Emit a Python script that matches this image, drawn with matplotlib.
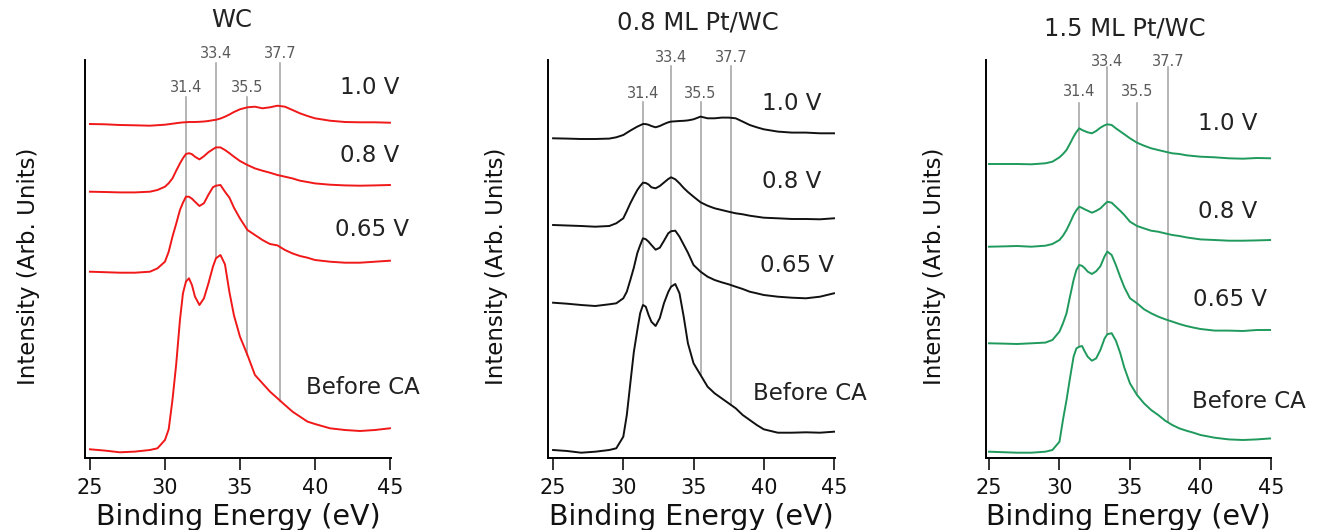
import numpy as np
import matplotlib.pyplot as plt

plt.rcParams['font.family'] = ['DejaVu Sans']

# binding energy grid (eV) shared by all spectra
energy = [25, 26, 27, 28, 29, 29.5, 30, 30.25, 30.5, 30.75, 31, 31.2, 31.4, 31.6, 31.8,
          32, 32.3, 32.6, 32.9, 33.2, 33.4, 33.7, 34, 34.3, 34.6, 35, 35.5, 36, 36.5,
          37, 37.5, 38, 38.5, 39, 39.5, 40, 41, 42, 43, 44, 45]

# WC
wc_before = [0, -1.3, -3, -2.3, -0.7, 1, 9.3, 20, 49.3, 85, 129.3, 156, 167.7, 171, 164.3,
             152.7, 144.3, 151, 166, 182.7, 191, 194.3, 185, 157, 134, 112.7, 94.3, 74.3, 66,
             57.7, 51, 44.3, 37.7, 32.7, 27.7, 25.3, 21, 19.3, 18.3, 19.3, 21]
wc_065 = [0, -0.5, -1, -1, 0, 3.3, 10, 20, 35, 48, 61.7, 69, 75, 75, 73,
          70, 65.7, 68.5, 77, 84.5, 86, 86.7, 80, 74, 64, 53.3, 41.7, 36.7, 31.7,
          27.7, 26.3, 21.7, 18.3, 15.7, 14, 11.7, 10, 9, 9, 10, 11]
wc_08 = [0, -0.3, -0.7, -0.7, 0, 1.7, 5, 8.5, 13.3, 21, 28.3, 33.5, 37.7, 38.5, 37.5,
         35, 32.3, 35.5, 39.5, 42.5, 44.3, 44.3, 41.7, 38.5, 35, 30.7, 26.7, 23.3, 21,
         19, 16.7, 15, 13.3, 11, 9.7, 8.3, 7, 6.3, 6, 6.3, 6.7]
wc_10 = [0, -0.3, -1, -1.3, -1.7, -1.2, -0.7, -0.2, 0.3, 0.8, 1.3, 1.6, 1.8, 2, 2,
         2, 2.2, 2.5, 3, 3.8, 4.2, 5.5, 7.3, 9.5, 12, 14.7, 16.7, 17.3, 15.7,
         16.7, 18.3, 17.3, 14, 10.7, 8, 5.7, 3.3, 2, 1.7, 1.7, 1.3]

# 0.8 ML Pt/WC
pt08_before = [0, -1, -2.7, -1.7, 0, 1.7, 13.3, 35, 66.7, 98, 120, 136.7, 145, 143.3, 135,
               128.3, 124, 132, 147, 158, 163.3, 166, 156.7, 133.3, 106.7, 86.7, 75, 63.3, 56.7,
               51.7, 46.7, 41.7, 35, 30, 25, 20.7, 17.3, 17.3, 17.7, 17.3, 18.3]
pt08_065 = [0, -1, -2.3, -3.3, -1.6, -0.6, 4.4, 11, 22.7, 35, 49.7, 57.5, 64.4, 63.5, 61,
            57.7, 53, 55, 62, 69.4, 71.5, 72, 66, 58, 50, 37.7, 31, 26, 22.7,
            20.4, 18.4, 16, 13.7, 11, 9.4, 7.7, 6, 5, 4.4, 6, 9.4]
pt08_08 = [0, -0.5, -1, -1.7, -1, 1.7, 6.7, 14, 21.7, 28.5, 35, 39, 42.3, 42, 40.5,
           37.7, 36.7, 39, 42.5, 46, 47.7, 45.7, 41.7, 37, 33, 28.3, 22.7, 19.3, 16.7,
           15, 13.3, 11.7, 10.7, 9.3, 8.3, 7.3, 6.7, 6, 6, 5.7, 6.7]
pt08_10 = [0, -0.3, -0.7, -0.7, -0.3, 1, 3.3, 5.5, 7.7, 9.7, 11.7, 13, 14.3, 14.2, 13.5,
           12.3, 11, 12.3, 14.3, 16, 16.7, 17, 17.3, 17.5, 17.9, 19, 21.7, 20, 20,
           20.7, 20.7, 20, 16.7, 13.3, 11, 9, 6.7, 5.7, 5.7, 5, 5]

# 1.5 ML Pt/WC
pt15_before = [0, -0.5, -1, -1, 0, 1.7, 10, 32, 51.7, 74, 95, 103.3, 105, 105.7, 100,
               95, 91, 93.3, 101.7, 113.3, 117.5, 118.5, 111, 99, 84, 68.3, 56.7, 48.3, 41.7,
               36.7, 31, 26.7, 23.3, 21, 19, 16.7, 14, 12.3, 11.7, 12.3, 13.3]
pt15_065 = [0, -0.3, -0.7, 0, 0.7, 3.3, 11.7, 20, 30, 47, 63.3, 73.3, 78.3, 77.5, 75,
            71.7, 69.3, 72, 77, 87, 91.7, 88.3, 78.3, 66.7, 56, 45, 40, 34, 30,
            26.7, 24, 21.7, 19.3, 17.3, 15.7, 14.3, 12.7, 12.7, 12.3, 13.3, 13.3]
pt15_08 = [0, 0.3, 0.7, 0, 1, 2.7, 6.7, 11, 16.7, 24, 31.7, 36.5, 40, 38.8, 37.3,
           36, 34, 35.8, 38.3, 42.5, 45, 44, 40, 36, 31.7, 25, 20.7, 18.3, 16,
           15, 13.3, 11.7, 10.7, 9.3, 8.3, 7.3, 6.7, 6, 6, 6.3, 6.7]
pt15_10 = [0, 0, 0, -0.3, 0.7, 2.3, 6.7, 10, 14, 20.5, 27.3, 32, 35.7, 34, 32.8,
           31.7, 30.7, 33, 36.3, 38.7, 39.7, 39, 35.7, 32.7, 29.7, 25.7, 21.3, 18.3, 15.7,
           14, 12.3, 10.7, 10, 8.7, 8, 7.3, 6.7, 5.7, 5.3, 6, 5.7]

# vertical stacking offsets: Before CA, 0.65 V, 0.8 V, 1.0 V
offsets_wc = [8.7, 186.3, 266.3, 334]
offsets_pt08 = [8, 155.3, 233, 319.7]
offsets_pt15 = [6.3, 114.7, 211.3, 294]

curve_labels = ['Before CA', '0.65 V', '0.8 V', '1.0 V']
panel_titles = ['WC', '0.8 ML Pt/WC', '1.5 ML Pt/WC']
peaks = [31.4, 33.4, 35.5, 37.7]
peak_labels = ['31.4', '33.4', '35.5', '37.7']
xticks = [25, 30, 35, 40, 45]

# ---- layout (pixels of a 1317x530 canvas) ----
W, H = 1317, 530
bottom_px, top_px = 458, 60
panels = [
    dict(spectra=[wc_before, wc_065, wc_08, wc_10], offsets=offsets_wc, color='#f01818',
         left=85, right=391, xlim=(24.67, 45.07),
         label_xy=[(43.2, 71), (43.8, 228), (43.67, 303), (43.67, 370)],
         title_xy=(34.47, 438), peak_label_y=[371, 405, 371, 405], peak_top=[361, 395, 361, 395],
         ylabel_x=28),
    dict(spectra=[pt08_before, pt08_065, pt08_08, pt08_10], offsets=offsets_pt08, color='#111111',
         left=548, right=835, xlim=(24.64, 45.07),
         label_xy=[(43.3, 65), (42.4, 192), (42.0, 276), (42.0, 355)],
         title_xy=(35.3, 435), peak_label_y=[364, 400, 364, 400], peak_top=[356, 392, 356, 392],
         ylabel_x=497),
    dict(spectra=[pt15_before, pt15_065, pt15_08, pt15_10], offsets=offsets_pt15, color='#1f9a5c',
         left=986, right=1271, xlim=(24.79, 45.0),
         label_xy=[(43.4, 57), (42.1, 158), (41.9, 247), (41.9, 335)],
         title_xy=(34.65, 429), peak_label_y=[366, 397, 366, 397], peak_top=[355, 391, 355, 391],
         ylabel_x=935),
]

fig = plt.figure(figsize=(W / 100, H / 100), dpi=100)

for i, p in enumerate(panels):
    rect = [p['left'] / W, 1 - bottom_px / H, (p['right'] - p['left']) / W, (bottom_px - top_px) / H]
    ax = fig.add_axes(rect)
    e = np.array(energy)
    for spec, off, lab, (lx, ly) in zip(p['spectra'], p['offsets'], curve_labels, p['label_xy']):
        ax.plot(e, np.array(spec) + off, color=p['color'], lw=1.4, zorder=3)
        ax.text(lx, ly, lab, ha='center', va='center', fontsize=16.5, color='#222222')

    # reference lines drop from the labels down to the "Before CA" spectrum
    base = np.array(p['spectra'][0]) + p['offsets'][0]
    for pk, pl, ly, top in zip(peaks, peak_labels, p['peak_label_y'], p['peak_top']):
        y0 = np.interp(pk, e, base)
        ax.plot([pk, pk], [y0, top], color='#a0a0a0', lw=1.1, zorder=2, clip_on=False)
        ax.text(pk, ly, pl, ha='center', va='center', fontsize=10.5, color='#5a5a5a', clip_on=False)

    ax.text(p['title_xy'][0], p['title_xy'][1], panel_titles[i], ha='center', va='center',
            fontsize=17.5, color='#222222', clip_on=False)

    ax.set_xlim(*p['xlim'])
    ax.set_ylim(0, bottom_px - top_px)
    ax.spines['top'].set_visible(False)
    ax.spines['right'].set_visible(False)
    for s in ('left', 'bottom'):
        ax.spines[s].set_linewidth(1.4)
    ax.set_yticks([])
    ax.set_xticks(xticks)
    ax.tick_params(axis='x', direction='out', length=8.5, width=1.2, labelsize=15,
                   pad=6, colors='#111111')

    ax.set_xlabel('Binding Energy (eV)', fontsize=20.5, color='#111111')
    ax.xaxis.set_label_coords(0.5, -59 / (bottom_px - top_px))
    ax.xaxis.label.set_va('center')
    ax.set_ylabel('Intensity (Arb. Units)', fontsize=16.5, color='#111111')
    ax.yaxis.set_label_coords((p['ylabel_x'] - p['left']) / (p['right'] - p['left']),
                              (bottom_px - 266) / (bottom_px - top_px))
    ax.yaxis.label.set_va('center')
    ax.yaxis.label.set_ha('center')

fig.savefig('out.png', dpi=100)
